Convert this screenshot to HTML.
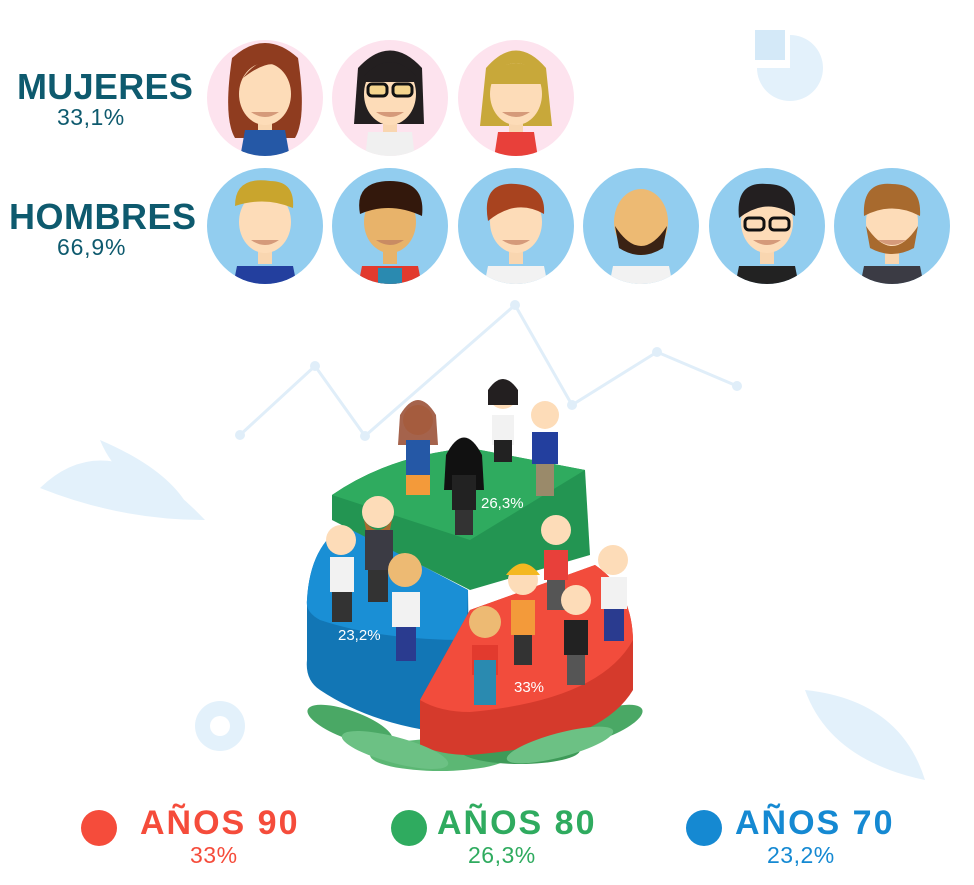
<!DOCTYPE html>
<html><head><meta charset="utf-8"><style>
html,body{margin:0;padding:0;background:#fff;}
body{width:974px;height:885px;position:relative;overflow:hidden;font-family:"Liberation Sans",sans-serif;}
.t{position:absolute;font-weight:bold;white-space:nowrap;}
.s{position:absolute;white-space:nowrap;}
</style></head><body>
<svg width="974" height="885" style="position:absolute;left:0;top:0">
<defs>
<clipPath id="c"><circle cx="0" cy="0" r="58"/></clipPath>
<g id="face">
 <rect x="-7" y="18" width="14" height="20" fill="#f9d6b0"/>
 <ellipse cx="0" cy="-4" rx="26" ry="31" fill="#fddcb8"/>
 <path d="M-14 14 Q0 24 14 14 Z" fill="#d59a7a"/>
</g>
</defs>
<g fill="#e3f1fb" stroke="none">
 <path d="M790 68 L790 35 A33 33 0 1 1 757 68 Z"/>
 <path d="M755 30 L785 30 L785 60 L755 60 Z" fill="#d4e9f8"/>
 <path d="M40 488 Q110 420 205 520 Q120 520 40 488Z"/>
 <path d="M100 440 Q170 470 190 510 Q120 490 100 440Z"/>
 <path d="M805 690 Q900 700 925 780 Q830 760 805 690Z"/>
 <circle cx="220" cy="726" r="25"/>
</g>
<circle cx="220" cy="726" r="10" fill="#fff"/>
<g stroke="#e0eef9" stroke-width="3" fill="none">
 <polyline points="240,435 315,366 365,436 515,305 572,405 657,352 737,386"/>
</g>
<g fill="#e0eef9"><circle cx="240" cy="435" r="5"/><circle cx="315" cy="366" r="5"/><circle cx="365" cy="436" r="5"/><circle cx="515" cy="305" r="5"/><circle cx="572" cy="405" r="5"/><circle cx="657" cy="352" r="5"/><circle cx="737" cy="386" r="5"/></g>

<g transform="translate(265,98)"><circle r="58" fill="#fde3ee"/><g clip-path="url(#c)">
 <path d="M-33 -40 Q0 -70 33 -40 Q42 20 30 40 L-30 40 Q-42 20 -33 -40Z" fill="#8f3c1f"/>
 <use href="#face"/><path d="M-22 -20 Q0 -50 22 -25 Q10 -45 -22 -20Z" fill="#8f3c1f"/>
 <path d="M-20 32 L20 32 L25 60 L-25 60Z" fill="#2558a6"/></g></g>
<g transform="translate(390,98)"><circle r="58" fill="#fde3ee"/><g clip-path="url(#c)">
 <path d="M-32 -30 Q0 -65 32 -30 L34 26 L-36 26Z" fill="#231f20"/>
 <use href="#face"/><path d="M-26 -22 Q0 -50 26 -22 L26 -16 L-26 -16Z" fill="#231f20"/>
 <rect x="-22" y="-14" width="19" height="12" rx="4" fill="#f5d58e" stroke="#111" stroke-width="3"/><rect x="3" y="-14" width="19" height="12" rx="4" fill="#f5d58e" stroke="#111" stroke-width="3"/>
 <path d="M-22 34 L22 34 L25 60 L-25 60Z" fill="#f0f0f0"/></g></g>
<g transform="translate(516,98)"><circle r="58" fill="#fde3ee"/><g clip-path="url(#c)">
 <path d="M-30 -30 Q0 -65 30 -30 L36 28 L-36 28Z" fill="#c8a83a"/>
 <use href="#face"/><path d="M-27 -20 Q0 -50 27 -20 L27 -14 L-27 -14Z" fill="#c8a83a"/>
 <path d="M-18 34 L18 34 L22 60 L-22 60Z" fill="#e8403a"/></g></g>

<g transform="translate(265,226)"><circle r="58" fill="#92cdef"/><g clip-path="url(#c)">
 <use href="#face"/><path d="M-30 -20 Q-30 -50 5 -45 Q30 -45 28 -18 Q0 -30 -30 -20Z" fill="#c9a52d"/>
 <path d="M-28 40 L28 40 L32 60 L-32 60Z" fill="#233f9e"/></g></g>
<g transform="translate(390,226)"><circle r="58" fill="#92cdef"/><g clip-path="url(#c)">
 <ellipse cx="0" cy="-4" rx="26" ry="31" fill="#e8b36a"/><rect x="-7" y="18" width="14" height="20" fill="#e8b36a"/><path d="M-14 14 Q0 24 14 14 Z" fill="#c98b63"/>
 <path d="M-30 -12 Q-36 -45 0 -45 Q36 -45 32 -10 Q0 -25 -30 -12Z" fill="#33180c"/>
 <path d="M-28 40 L28 40 L32 60 L-32 60Z" fill="#e23a2e"/><rect x="-12" y="42" width="24" height="20" fill="#2a8ab0"/></g></g>
<g transform="translate(516,226)"><circle r="58" fill="#92cdef"/><g clip-path="url(#c)">
 <use href="#face"/><path d="M-28 -5 Q-35 -45 0 -42 Q30 -40 28 -12 Q0 -28 -28 -5Z" fill="#a8431f"/>
 <path d="M-28 40 L28 40 L32 60 L-32 60Z" fill="#f2f2f2"/></g></g>
<g transform="translate(641,226)"><circle r="58" fill="#92cdef"/><g clip-path="url(#c)">
 <ellipse cx="0" cy="-4" rx="27" ry="33" fill="#edba73"/><path d="M-26 0 Q0 40 26 0 L22 22 Q0 36 -22 22Z" fill="#3a2214"/>
 <path d="M-28 40 L28 40 L32 60 L-32 60Z" fill="#f2f2f2"/></g></g>
<g transform="translate(767,226)"><circle r="58" fill="#92cdef"/><g clip-path="url(#c)">
 <use href="#face"/><path d="M-28 -8 Q-32 -45 0 -42 Q30 -42 28 -10 Q0 -30 -28 -8Z" fill="#231f20"/>
 <rect x="-22" y="-8" width="19" height="12" rx="4" fill="none" stroke="#111" stroke-width="3"/><rect x="3" y="-8" width="19" height="12" rx="4" fill="none" stroke="#111" stroke-width="3"/>
 <path d="M-28 40 L28 40 L32 60 L-32 60Z" fill="#222"/></g></g>
<g transform="translate(892,226)"><circle r="58" fill="#92cdef"/><g clip-path="url(#c)">
 <use href="#face"/><path d="M-26 0 Q0 40 26 0 L22 22 Q0 34 -22 22Z" fill="#a86a2e"/><path d="M-28 -10 Q-30 -45 0 -42 Q30 -42 28 -10 Q0 -25 -28 -10Z" fill="#a86a2e"/>
 <path d="M-28 40 L28 40 L32 60 L-32 60Z" fill="#3b3b44"/></g></g>

<g>
 <g fill="#4aa865"><ellipse cx="350" cy="725" rx="45" ry="14" transform="rotate(20 350 725)"/><ellipse cx="600" cy="725" rx="45" ry="14" transform="rotate(-20 600 725)"/><ellipse cx="440" cy="755" rx="70" ry="16" fill="#5cb774"/><ellipse cx="520" cy="750" rx="60" ry="14" fill="#3e9a58"/></g>
 <path d="M307 600 Q310 545 345 525 L468 590 L470 735 Q380 730 320 690 Q305 680 307 660Z" fill="#1276b5"/>
 <path d="M307 600 Q310 545 345 525 L468 590 L466 640 Q380 640 320 620 Q305 612 307 600Z" fill="#1a8fd5"/>
 <path d="M332 495 Q390 455 470 448 L585 470 L590 555 L470 590 L332 520Z" fill="#239552"/>
 <path d="M332 495 Q390 455 470 448 L585 470 L470 540Z" fill="#2fab5f"/>
 <path d="M420 700 L470 610 L595 565 Q632 590 633 640 L633 690 Q600 745 470 755 Q440 755 420 745Z" fill="#d53a2c"/>
 <path d="M420 700 L470 610 L595 565 Q632 590 633 640 Q600 700 470 712 Q440 712 420 700Z" fill="#f24c3c"/>
 <g fill="#6cc184"><ellipse cx="395" cy="750" rx="55" ry="13" transform="rotate(15 395 750)"/><ellipse cx="560" cy="745" rx="55" ry="12" transform="rotate(-15 560 745)"/></g>
 <g>
  <circle cx="418" cy="420" r="15" fill="#fddcb8"/><path d="M400 415 Q418 385 436 415 L438 445 L398 445Z" fill="#8f3c1f" opacity=".8"/><rect x="406" y="440" width="24" height="35" fill="#2558a6"/><rect x="406" y="475" width="24" height="20" fill="#f39a3a"/>
  <circle cx="503" cy="395" r="14" fill="#fddcb8"/><path d="M488 390 Q503 368 518 390 L518 405 L488 405Z" fill="#231f20"/><rect x="492" y="415" width="22" height="30" fill="#f2f2f2"/><rect x="494" y="440" width="18" height="22" fill="#222"/>
  <circle cx="545" cy="415" r="14" fill="#fddcb8"/><rect x="532" y="432" width="26" height="32" fill="#233f9e"/><rect x="536" y="464" width="18" height="32" fill="#9a8a6a"/>
  <circle cx="464" cy="455" r="15" fill="#fddcb8"/><path d="M446 455 Q464 420 482 455 L484 490 L444 490Z" fill="#111"/><rect x="452" y="475" width="24" height="35" fill="#222"/><rect x="455" y="510" width="18" height="25" fill="#333"/>
  <circle cx="378" cy="512" r="16" fill="#fddcb8"/><path d="M364 520 Q378 540 392 520 L390 530 Q378 540 366 530Z" fill="#a86a2e"/><rect x="365" y="530" width="28" height="40" fill="#3b3b44"/><rect x="368" y="570" width="20" height="32" fill="#333"/>
  <circle cx="341" cy="540" r="15" fill="#fddcb8"/><rect x="330" y="557" width="24" height="35" fill="#f2f2f2"/><rect x="332" y="592" width="20" height="30" fill="#333"/>
  <circle cx="405" cy="570" r="17" fill="#edba73"/><rect x="392" y="592" width="28" height="35" fill="#f2f2f2"/><rect x="396" y="627" width="20" height="34" fill="#2a3b8f"/>
  <circle cx="556" cy="530" r="15" fill="#fddcb8"/><rect x="544" y="550" width="24" height="30" fill="#e8403a"/><rect x="547" y="580" width="18" height="30" fill="#555"/>
  <circle cx="613" cy="560" r="15" fill="#fddcb8"/><rect x="601" y="577" width="26" height="32" fill="#f2f2f2"/><rect x="604" y="609" width="20" height="32" fill="#2a3b8f"/>
  <circle cx="523" cy="580" r="15" fill="#fddcb8"/><path d="M506 575 Q523 552 540 575Z" fill="#f4b820"/><rect x="511" y="600" width="24" height="35" fill="#f39a3a"/><rect x="514" y="635" width="18" height="30" fill="#333"/>
  <circle cx="576" cy="600" r="15" fill="#fddcb8"/><rect x="564" y="620" width="24" height="35" fill="#222"/><rect x="567" y="655" width="18" height="30" fill="#555"/>
  <circle cx="485" cy="622" r="16" fill="#edba73"/><rect x="472" y="645" width="26" height="30" fill="#e23a2e"/><rect x="474" y="660" width="22" height="45" fill="#2a8ab0"/>
 </g>
 <text x="481" y="508" font-family="Liberation Sans" font-size="15" fill="#fff">26,3%</text>
 <text x="338" y="640" font-family="Liberation Sans" font-size="15" fill="#fff">23,2%</text>
 <text x="514" y="692" font-family="Liberation Sans" font-size="15" fill="#fff">33%</text>
</g>
<circle cx="99" cy="828" r="18" fill="#f54c3b"/>
<circle cx="409" cy="828" r="18" fill="#2fab5f"/>
<circle cx="704" cy="828" r="18" fill="#1589d2"/>
</svg>
<div class="t" style="left:17px;top:66px;font-size:36px;color:#0e5a6e;letter-spacing:0.3px;">MUJERES</div>
<div class="s" style="left:57px;top:104px;font-size:23px;color:#0e5a6e;letter-spacing:0.5px;">33,1%</div>
<div class="t" style="left:9px;top:196px;font-size:36px;color:#0e5a6e;letter-spacing:0.5px;">HOMBRES</div>
<div class="s" style="left:57px;top:234px;font-size:23px;color:#0e5a6e;letter-spacing:0.8px;">66,9%</div>
<div class="t" style="left:140px;top:804px;font-size:34px;color:#f54c3b;letter-spacing:2px;">AÑOS 90</div>
<div class="s" style="left:190px;top:842px;font-size:23px;color:#f54c3b;letter-spacing:0.5px;">33%</div>
<div class="t" style="left:437px;top:804px;font-size:34px;color:#2fab5f;letter-spacing:2px;">AÑOS 80</div>
<div class="s" style="left:468px;top:842px;font-size:23px;color:#2fab5f;letter-spacing:0.5px;">26,3%</div>
<div class="t" style="left:735px;top:804px;font-size:34px;color:#1589d2;letter-spacing:2px;">AÑOS 70</div>
<div class="s" style="left:767px;top:842px;font-size:23px;color:#1589d2;letter-spacing:0.5px;">23,2%</div>
</body></html>
